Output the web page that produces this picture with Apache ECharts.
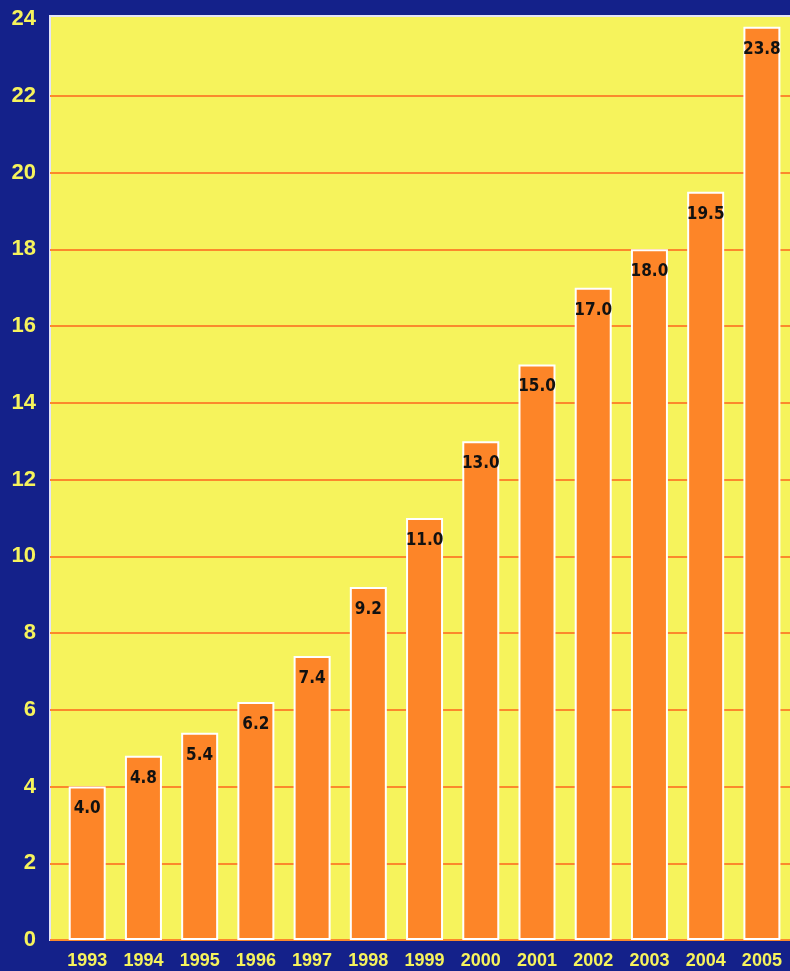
<!DOCTYPE html>
<html>
<head>
<meta charset="utf-8">
<script src="https://cdn.jsdelivr.net/npm/echarts@6/dist/echarts.min.js"></script>
<style>
  html, body { margin: 0; padding: 0; background: #14218a; }
  #chart { width: 790px; height: 971px; }
</style>
</head>
<body>
<div id="chart"></div>
<script>
const years = ['1993', '1994', '1995', '1996', '1997', '1998', '1999', '2000', '2001', '2002', '2003', '2004', '2005']
const values = [4.0, 4.8, 5.4, 6.2, 7.4, 9.2, 11.0, 13.0, 15.0, 17.0, 18.0, 19.5, 23.8]

const yellow = '#f6f35c'
const orange = '#fd8528'

const chart = echarts.init(document.getElementById('chart'))
chart.setOption({
  backgroundColor: '#14218a',
  animation: false,
  // plot panel behind the axes (a bit taller than the 0..24 range)
  graphic: [
    {
      type: 'rect',
      z: -10,
      shape: { x: 50, y: 16, width: 746, height: 924 },
      style: { fill: yellow, stroke: '#e4e4f8', lineWidth: 2 },
    },
  ],
  grid: [
    { left: 50, right: -2, top: 19, bottom: 31 },
    { left: 59.1, right: -7.5, top: 19, bottom: 31 },
  ],
  xAxis: [
    { gridIndex: 0, type: 'value', min: 0, max: 1, show: false },
    {
      gridIndex: 1,
      type: 'category',
      data: years,
      axisLine: { show: false },
      axisTick: { show: false },
      axisLabel: {
        color: yellow,
        fontFamily: '"Liberation Sans", Arial, sans-serif',
        fontWeight: 'bold',
        fontSize: 18,
        margin: 12,
      },
    },
  ],
  yAxis: [
    {
      gridIndex: 0,
      type: 'value',
      min: 0,
      max: 24,
      interval: 2,
      axisLine: { show: false },
      axisTick: { show: false },
      axisLabel: {
        color: yellow,
        fontFamily: '"Liberation Sans", Arial, sans-serif',
        fontWeight: 'bold',
        fontSize: 22,
        margin: 14,
      },
      splitLine: {
        showMaxLine: false,
        lineStyle: { color: '#fb892c', width: 2 },
      },
    },
    { gridIndex: 1, type: 'value', min: 0, max: 24, show: false, splitLine: { show: false } },
  ],
  series: [
    {
      type: 'bar',
      xAxisIndex: 1,
      yAxisIndex: 1,
      data: values,
      barWidth: 37,
      itemStyle: { color: orange, borderColor: '#ffffff', borderWidth: 2 },
      label: {
        show: true,
        position: 'insideTop',
        distance: 14,
        color: '#111111',
        fontFamily: '"Liberation Sans Narrow", "DejaVu Sans Condensed", "Liberation Sans", sans-serif',
        fontWeight: 'bold',
        fontSize: 17,
        formatter: ({ value }) => Number(value).toFixed(1),
      },
    },
  ],
})
</script>
</body>
</html>
